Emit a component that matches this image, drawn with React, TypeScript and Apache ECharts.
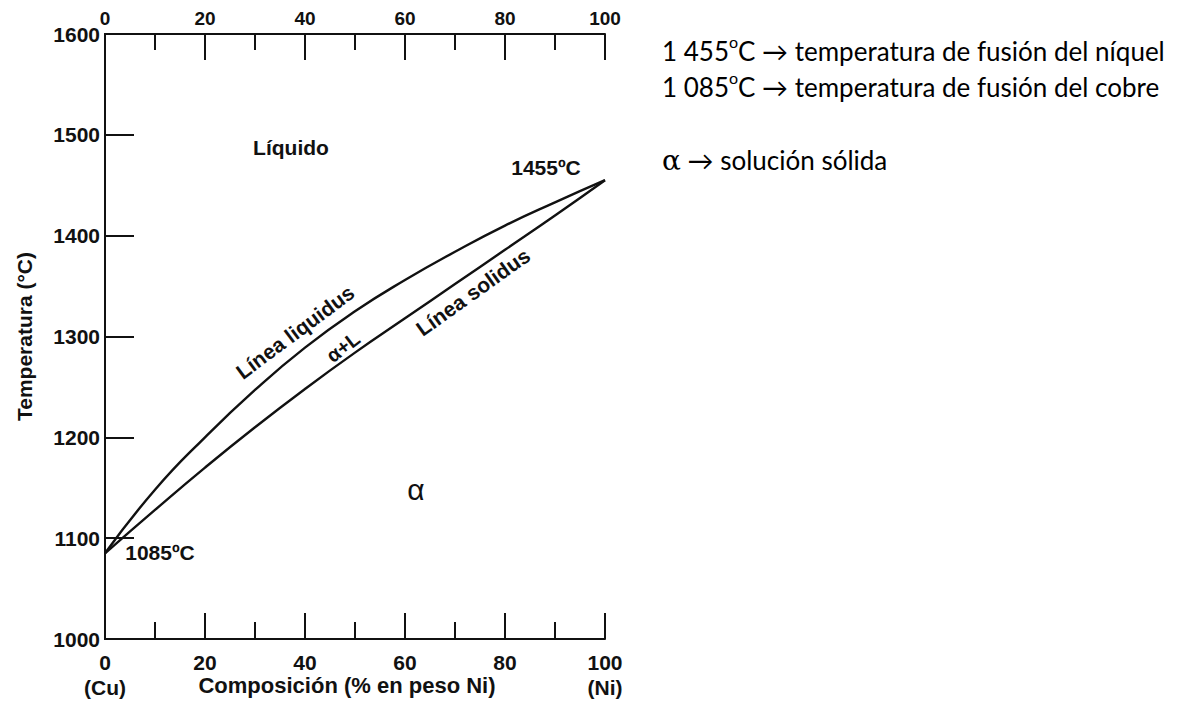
import React, { useEffect, useRef } from "react";
import * as echarts from "echarts";

// Cu–Ni phase diagram: composition in wt% Ni, temperatures in °C
const niPct = [0, 10, 20, 30, 40, 50, 60, 70, 80, 90, 100];
const liquidus = [1085, 1148, 1200, 1247, 1289, 1325, 1356, 1384, 1410, 1433, 1455];
const solidus = [1085, 1128, 1170, 1210, 1248, 1284, 1318, 1352, 1386, 1420, 1455];

const tempMin = 1000;
const tempMax = 1600;
const tempStep = 100;
const compMin = 0;
const compMax = 100;
const compStep = 20;
const endNames: Record<number, string> = { 0: "(Cu)", 100: "(Ni)" };

const notes = [
  "1 455{s|o}C \u2192 temperatura de fusión del níquel",
  "1 085{s|o}C \u2192 temperatura de fusión del cobre",
  "{a|\u03b1} \u2192 solución sólida",
];

const SANS = "'Liberation Sans', Arial, sans-serif";
const INK = "#111";

export default function App() {
  const ref = useRef<HTMLDivElement>(null);

  useEffect(() => {
    if (!ref.current) return;
    const chart = echarts.init(ref.current, null, { renderer: "svg" });

    const tickStyle = { color: INK, fontFamily: SANS, fontWeight: "bold" as const };
    const axisLine = { show: true, lineStyle: { color: INK, width: 2 } };

    const toPairs = (ys: number[]) => niPct.map((x, i) => [x, ys[i]]);

    const note = (text: string, y: number) => ({
      type: "text",
      x: 662,
      y,
      style: {
        text,
        fill: "#000",
        fontFamily: "Lato, 'Open Sans', sans-serif",
        fontSize: 26,
        lineHeight: 36,
        align: "left",
        verticalAlign: "middle",
        rich: {
          s: { fontSize: 16, lineHeight: 14, fontFamily: "Lato, sans-serif", verticalAlign: "top" },
          a: { fontSize: 28, lineHeight: 36, fontFamily: "'DejaVu Serif', 'Liberation Serif', serif" },
        },
      },
    });

    const plotLabel = (text: string, x: number, y: number, size: number, rotation = 0, weight = "bold") => ({
      type: "text",
      x,
      y,
      rotation,
      style: {
        text,
        fill: INK,
        fontFamily: SANS,
        fontWeight: weight,
        fontSize: size,
        align: "center",
        verticalAlign: "middle",
      },
    });

    chart.setOption({
      animation: false,
      backgroundColor: "#fff",
      grid: { left: 105, right: 585, top: 34, bottom: 64, containLabel: false, outerBoundsMode: "none" },
      xAxis: [
        {
          type: "value",
          position: "bottom",
          min: compMin,
          max: compMax,
          interval: compStep,
          axisLine,
          axisTick: { show: true, inside: true, length: 26, lineStyle: { color: INK, width: 2 } },
          minorTick: { show: true, splitNumber: 2, length: 17, lineStyle: { color: INK, width: 2 } },
          splitLine: { show: false },
          axisLabel: {
            ...tickStyle,
            fontSize: 21,
            margin: 11,
            lineHeight: 25,
            formatter: (v: number) => (endNames[v] ? `${v}\n${endNames[v]}` : `${v}`),
          },
          name: "Composición (% en peso Ni)",
          nameLocation: "middle",
          nameGap: 35,
          nameMoveOverlap: false,
          nameTextStyle: { ...tickStyle, fontSize: 22, padding: [0, 16, 0, 0] },
        },
        {
          type: "value",
          position: "top",
          min: compMin,
          max: compMax,
          interval: compStep,
          axisLine,
          axisTick: { show: true, inside: true, length: 26, lineStyle: { color: INK, width: 2 } },
          minorTick: { show: true, splitNumber: 2, length: 16, lineStyle: { color: INK, width: 2 } },
          splitLine: { show: false },
          axisLabel: { ...tickStyle, fontSize: 19, margin: 6 },
        },
      ],
      yAxis: [
        {
          type: "value",
          position: "left",
          min: tempMin,
          max: tempMax,
          interval: tempStep,
          axisLine,
          axisTick: { show: true, inside: true, length: 29, lineStyle: { color: INK, width: 2 } },
          splitLine: { show: false },
          axisLabel: { ...tickStyle, fontSize: 21, margin: 5, formatter: (v: number) => String(v) },
          name: "Temperatura (°C)",
          nameLocation: "middle",
          nameGap: 70,
          nameRotate: 90,
          nameMoveOverlap: false,
          nameTextStyle: { ...tickStyle, fontSize: 21 },
        },
        {
          type: "value",
          position: "right",
          min: tempMin,
          max: tempMax,
          interval: tempStep,
          axisLine,
          axisTick: { show: false },
          axisLabel: { show: false },
          splitLine: { show: false },
        },
      ],
      series: [
        {
          name: "Línea liquidus",
          type: "line",
          xAxisIndex: 0,
          yAxisIndex: 0,
          data: toPairs(liquidus),
          smooth: 0.5,
          showSymbol: false,
          lineStyle: { color: INK, width: 2.4 },
        },
        {
          name: "Línea solidus",
          type: "line",
          xAxisIndex: 0,
          yAxisIndex: 0,
          data: toPairs(solidus),
          smooth: 0.5,
          showSymbol: false,
          lineStyle: { color: INK, width: 2.4 },
        },
      ],
      graphic: [
        plotLabel("Líquido", 291, 147, 21),
        plotLabel("1455ºC", 546, 167, 21),
        plotLabel("1085ºC", 160, 552, 21),
        plotLabel("\u03b1", 416, 489, 30, 0, "normal"),
        plotLabel("Línea liquidus", 295, 332, 21, 0.64),
        plotLabel("\u03b1+L", 343, 347, 20, 0.66),
        plotLabel("Línea solidus", 473, 292, 21, 0.62),
        note(notes[0], 51),
        note(notes[1], 87),
        note(notes[2], 160),
      ],
    });

    return () => chart.dispose();
  }, []);

  return (
    <div
      ref={ref}
      style={{ position: "fixed", left: 0, top: 0, width: 1190, height: 703, background: "#fff" }}
    />
  );
}
